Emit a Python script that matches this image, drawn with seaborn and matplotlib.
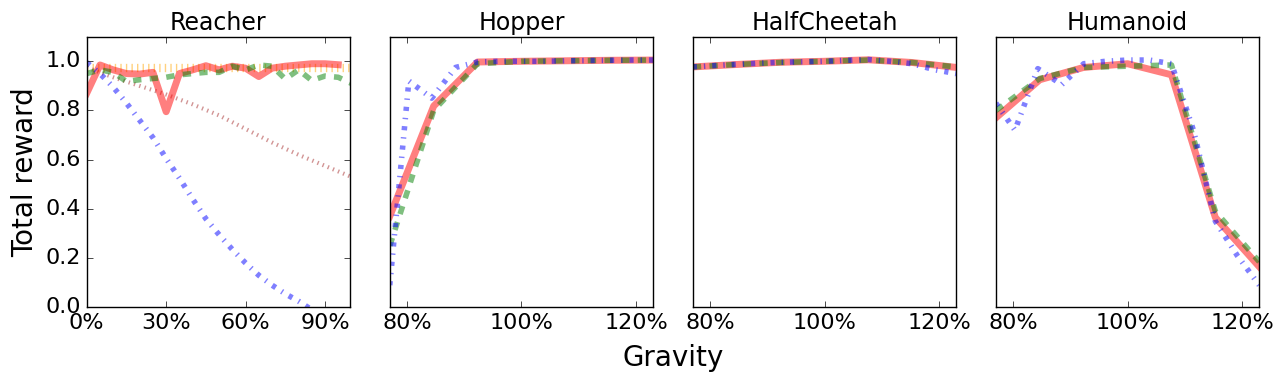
import matplotlib
matplotlib.use("Agg")
import matplotlib.pyplot as plt
from matplotlib.ticker import PercentFormatter
import seaborn as sns

# Reacher (gravity from 0% to 100%)
reacher_x = [0.00, 0.05, 0.10, 0.15, 0.20, 0.25, 0.30, 0.35, 0.40, 0.45,
             0.50, 0.55, 0.60, 0.65, 0.70, 0.75, 0.80, 0.85, 0.90, 0.95]
reacher_red = [0.87, 0.985, 0.965, 0.95, 0.948, 0.955, 0.795, 0.95, 0.965, 0.982,
               0.965, 0.98, 0.972, 0.938, 0.972, 0.98, 0.985, 0.99, 0.99, 0.986]
reacher_green_x = [0.00, 0.05, 0.10, 0.15, 0.20, 0.25, 0.30, 0.35, 0.40, 0.45, 0.50,
                   0.55, 0.60, 0.65, 0.70, 0.75, 0.80, 0.85, 0.90, 0.95, 1.00]
reacher_green = [0.95, 0.965, 0.955, 0.918, 0.925, 0.93, 0.935, 0.945, 0.95, 0.955, 0.955,
                 0.98, 0.965, 0.985, 0.98, 0.928, 0.965, 0.922, 0.94, 0.935, 0.91]
reacher_blue_x = [0.00, 0.05, 0.10, 0.15, 0.20, 0.25, 0.30, 0.35, 0.40, 0.45,
                  0.50, 0.55, 0.60, 0.65, 0.70, 0.75, 0.80, 0.85, 0.90]
reacher_blue = [0.995, 0.95, 0.895, 0.83, 0.76, 0.69, 0.605, 0.525, 0.44, 0.36,
                0.295, 0.235, 0.18, 0.13, 0.09, 0.055, 0.025, -0.01, -0.04]
reacher_brown_x = [0.0, 0.1, 0.2, 0.3, 0.4, 0.5, 0.6, 0.7, 0.8, 0.9, 1.0]
reacher_brown = [0.975, 0.935, 0.9, 0.865, 0.825, 0.78, 0.725, 0.67, 0.62, 0.575, 0.53]
reacher_orange_x = [0.0, 1.0]
reacher_orange = [0.972, 0.972]

# other tasks (gravity from 77% to 123%)
grav_x = [0.77, 0.8467, 0.9233, 1.00, 1.0767, 1.1533, 1.23]
grav_x_fine = [0.77, 0.8033, 0.8433, 0.885, 0.9233, 0.9617, 1.00,
               1.0383, 1.0767, 1.115, 1.1533, 1.1917, 1.23]

hopper_red = [0.37, 0.818, 0.997, 1.0, 1.002, 1.004, 1.005]
hopper_green = [0.25, 0.80, 0.99, 1.0, 1.002, 1.004, 1.005]
hopper_blue = [0.09, 0.92, 0.85, 0.975, 0.997, 1.0, 1.0,
               1.0, 1.002, 1.003, 1.004, 1.005, 1.005]

cheetah_red = [0.977, 0.987, 0.996, 1.0, 1.006, 0.995, 0.975]
cheetah_green = [0.977, 0.987, 0.995, 1.0, 1.005, 0.995, 0.977]
cheetah_blue = [0.977, 0.982, 0.987, 0.992, 0.996, 0.998, 1.0,
                1.004, 1.007, 1.0, 0.99, 0.966, 0.95]

humanoid_red = [0.77, 0.925, 0.975, 0.99, 0.945, 0.365, 0.165]
humanoid_green = [0.80, 0.93, 0.975, 0.98, 0.985, 0.39, 0.185]
humanoid_blue = [0.83, 0.72, 0.97, 0.905, 0.99, 1.0, 1.005,
                 1.005, 0.99, 0.72, 0.35, 0.21, 0.09]

titles = ["Reacher", "Hopper", "HalfCheetah", "Humanoid"]

plt.style.use("classic")
plt.rcParams["font.family"] = ["DejaVu Sans"]

fig, axes = plt.subplots(1, 4, figsize=(12.83, 3.82), dpi=100)
fig.patch.set_facecolor("white")
fig.subplots_adjust(left=0.0676, right=0.9815, bottom=0.1955, top=0.904, wspace=0.1505)


def draw(ax, x, y, color, ls, lw):
	sns.lineplot(x=x, y=y, ax=ax, color=color, linestyle=ls, lw=lw,
	             alpha=0.5, errorbar=None)


ax = axes[0]
draw(ax, reacher_orange_x, reacher_orange, "orange", ":", 6)
draw(ax, reacher_brown_x, reacher_brown, "brown", ":", 3)
draw(ax, reacher_x, reacher_red, "r", "-", 5)
draw(ax, reacher_green_x, reacher_green, "g", "--", 4)
draw(ax, reacher_blue_x, reacher_blue, "b", "-.", 4)
ax.set_xlim(0, 0.995)
ax.set_xticks([0.0, 0.3, 0.6, 0.9])

sets = [(hopper_red, hopper_green, hopper_blue),
        (cheetah_red, cheetah_green, cheetah_blue),
        (humanoid_red, humanoid_green, humanoid_blue)]
for ax, (red, green, blue) in zip(axes[1:], sets):
	draw(ax, grav_x, red, "r", "-", 5)
	draw(ax, grav_x, green, "g", "--", 4)
	draw(ax, grav_x_fine, blue, "b", "-.", 4)
	ax.set_xlim(0.77, 1.23)
	ax.set_xticks([0.8, 1.0, 1.2])
	ax.set_yticks([])

for ax, t in zip(axes, titles):
	ax.set_ylim(0, 1.1)
	ax.xaxis.set_major_formatter(PercentFormatter(xmax=1.0, decimals=0))
	ax.tick_params(labelsize=16)
	ax.set_title(t, fontsize=17)
	ax.set_xlabel("")
	ax.set_ylabel("")

axes[0].set_yticks([0.0, 0.2, 0.4, 0.6, 0.8, 1.0])
axes[0].set_ylabel("Total reward", fontsize=20)
fig.text(0.5245, 0.025, "Gravity", ha="center", va="bottom", fontsize=20)

plt.savefig("out.png", dpi=100, facecolor="white")
